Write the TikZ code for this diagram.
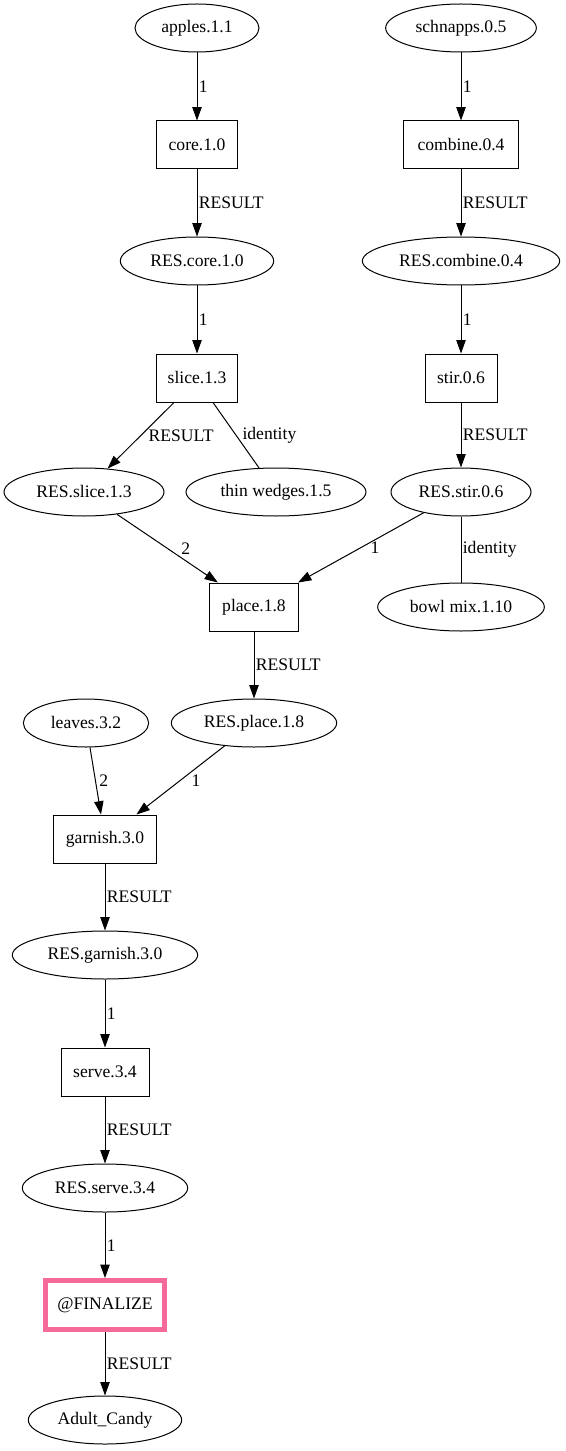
\documentclass[tikz,border=0pt]{standalone}
\usepackage{fontspec}
\setmainfont{Liberation Serif}
\usetikzlibrary{shapes.geometric,arrows.meta}
\definecolor{finalpink}{HTML}{F46A9B}

\begin{document}
\begin{tikzpicture}[x=0.75pt,y=-0.75pt,
                    font=\fontsize{13.2}{15}\selectfont,
                    op node/.style={rectangle,draw,line width=0.75pt,minimum height=36pt,inner sep=0pt},
                    data node/.style={ellipse,draw,line width=0.75pt,minimum height=36pt,inner sep=0pt},
                    final node/.style={rectangle,draw=finalpink,line width=3.5pt,minimum height=37pt,inner sep=0pt},
                    flow/.style={line width=0.75pt,-{Triangle[length=10pt,width=7pt]}},
                    lbl/.style={right,inner sep=1pt}
                   ]
  \useasboundingbox (0,0) rectangle (565,1451);
  % left branch
  \node[data node,minimum width=93pt]  (apples)   at (197,28)   {apples.1.1};
  \node[op node,minimum width=61pt]    (core)     at (197,145)  {core.1.0};
  \node[data node,minimum width=115pt] (rcore)    at (197,261)  {RES.core.1.0};
  \node[op node,minimum width=61pt]    (slice)    at (197,378)  {slice.1.3};
  \node[data node,minimum width=120pt] (rslice)   at (84,492)   {RES.slice.1.3};
  \node[data node,minimum width=135pt] (wedges)   at (276,492)  {thin wedges.1.5};
  % right branch
  \node[data node,minimum width=113pt] (schnapps) at (461,28)   {schnapps.0.5};
  \node[op node,minimum width=86pt]    (combine)  at (461,145)  {combine.0.4};
  \node[data node,minimum width=148pt] (rcombine) at (461,261)  {RES.combine.0.4};
  \node[op node,minimum width=54pt]    (stir)     at (461,378)  {stir.0.6};
  \node[data node,minimum width=105pt] (rstir)    at (461,492)  {RES.stir.0.6};
  \node[data node,minimum width=125pt] (bowl)     at (461,607)  {bowl mix.1.10};
  % join and finish
  \node[op node,minimum width=67pt]    (place)    at (254,607)  {place.1.8};
  \node[data node,minimum width=124pt] (rplace)   at (254,723)  {RES.place.1.8};
  \node[data node,minimum width=94pt]  (leaves)   at (86,723)   {leaves.3.2};
  \node[op node,minimum width=77pt]    (garnish)  at (105,839)  {garnish.3.0};
  \node[data node,minimum width=139pt] (rgarnish) at (105,955)  {RES.garnish.3.0};
  \node[op node,minimum width=66pt]    (serve)    at (105,1072) {serve.3.4};
  \node[data node,minimum width=124pt] (rserve)   at (105,1188) {RES.serve.3.4};
  \node[final node,minimum width=89pt] (final)    at (105,1305) {@FINALIZE};
  \node[data node,minimum width=115pt] (candy)    at (105,1420) {Adult\_Candy};
  \path[flow]%
    (apples) edge node [lbl] {1} (core)
    (core) edge node [lbl] {RESULT} (rcore)
    (rcore) edge node [lbl] {1} (slice)
    ([xshift=-17.25pt]slice.south) edge node [lbl,xshift=4.5pt] {RESULT} (rslice)
    ([xshift=12pt]slice.south) edge [-] node [lbl,xshift=3.5pt] {identity} (wedges)
    (schnapps) edge node [lbl] {1} (combine)
    (combine) edge node [lbl] {RESULT} (rcombine)
    (rcombine) edge node [lbl] {1} (stir)
    (stir) edge node [lbl] {RESULT} (rstir)
    (rstir) edge [-] node [lbl] {identity} (bowl)
    (rslice) edge node [lbl,xshift=9pt] {2} (place)
    (rstir) edge node [lbl,xshift=6pt] {1} (place)
    (place) edge node [lbl] {RESULT} (rplace)
    (leaves) edge node [lbl,xshift=1.5pt] {2} (garnish)
    (rplace) edge node [lbl,xshift=7pt] {1} (garnish)
    (garnish) edge node [lbl] {RESULT} (rgarnish)
    (rgarnish) edge node [lbl] {1} (serve)
    (serve) edge node [lbl] {RESULT} (rserve)
    (rserve) edge node [lbl] {1} (final)
    (final) edge node [lbl] {RESULT} (candy);
\end{tikzpicture}
\end{document}
